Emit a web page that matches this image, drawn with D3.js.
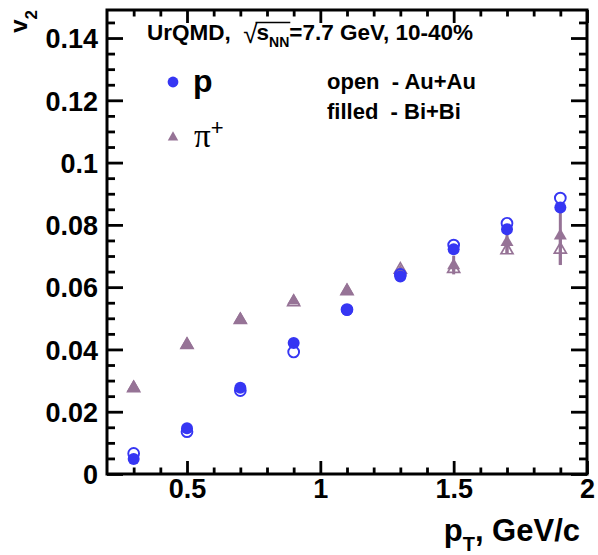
<!DOCTYPE html>
<html>
<head>
<meta charset="utf-8">
<script src="https://cdn.jsdelivr.net/npm/d3@7"></script>
<style>
  html, body { margin: 0; padding: 0; background: #fff; }
  svg { display: block; }
</style>
</head>
<body>
<script>
// Elliptic flow v2 vs transverse momentum, UrQMD, sqrt(sNN)=7.7 GeV, 10-40%
const pT = [0.3, 0.5, 0.7, 0.9, 1.1, 1.3, 1.5, 1.7, 1.9];
const protonAuAu = [0.0066, 0.0136, 0.0268, 0.0392, 0.0528, 0.0641, 0.0735, 0.0805, 0.0886];
const protonBiBi = [0.0048, 0.0147, 0.0277, 0.0421, 0.0527, 0.0634, 0.0722, 0.0786, 0.0856];
const pionAuAu   = [0.0277, 0.0416, 0.0496, 0.0553, 0.0589, 0.0658, 0.0660, 0.0720, 0.0722];
const pionBiBi   = [0.0280, 0.0418, 0.0499, 0.0558, 0.0591, 0.0651, 0.0671, 0.0746, 0.0767];
const pionAuAuErr = [0, 0, 0, 0, 0, 0, 0.0008, 0.0012, 0.0050];
const pionBiBiErr = [0, 0, 0, 0, 0, 0, 0.0030, 0.0037, 0.0096];

const xTickValues = [0.5, 1, 1.5, 2];
const xTickLabels = ["0.5", "1", "1.5", "2"];
const yTickValues = [0, 0.02, 0.04, 0.06, 0.08, 0.1, 0.12, 0.14];
const yTickLabels = ["0", "0.02", "0.04", "0.06", "0.08", "0.1", "0.12", "0.14"];

const W = 598, H = 555;
const frameL = 107, frameR = 587, frameT = 10, frameB = 474;
const BLUE = "#3636f3", MAUVE = "#967396";
const SANS = "'Liberation Sans', Arial, Helvetica, sans-serif";

const svg = d3.select("body").append("svg").attr("width", W).attr("height", H);

const x = d3.scaleLinear().domain([0.2, 2]).range([frameL, frameR]);
const y = d3.scaleLinear().domain([0, 0.149]).range([frameB, frameT]);

const xMinor = d3.range(0.3, 2.0001, 0.1).map(v => +v.toFixed(2)).filter(v => !xTickValues.includes(v));
const yMinor = d3.range(0.005, 0.149, 0.005).map(v => +v.toFixed(3)).filter(v => !yTickValues.includes(v));

function styleAxis(g) {
  g.select(".domain").remove();
  g.selectAll(".tick line").attr("stroke", "#000").attr("stroke-width", 2.8);
}

// bottom axis: major ticks with labels, minor ticks
svg.append("g").attr("transform", `translate(0,${frameB})`)
  .call(d3.axisBottom(x).tickValues(xTickValues).tickSize(-13).tickPadding(24)
    .tickFormat((d, i) => xTickLabels[i]))
  .call(styleAxis)
  .call(g => g.selectAll("text").attr("font-family", SANS).attr("font-weight", "bold")
    .attr("font-size", 27).attr("fill", "#000").attr("dy", "0"));
svg.append("g").attr("transform", `translate(0,${frameB})`)
  .call(d3.axisBottom(x).tickValues(xMinor).tickSize(-6.5).tickFormat(""))
  .call(styleAxis);
// top axis
svg.append("g").attr("transform", `translate(0,${frameT})`)
  .call(d3.axisTop(x).tickValues(xTickValues).tickSize(-13).tickFormat(""))
  .call(styleAxis);
svg.append("g").attr("transform", `translate(0,${frameT})`)
  .call(d3.axisTop(x).tickValues(xMinor).tickSize(-6.5).tickFormat(""))
  .call(styleAxis);

// left axis
svg.append("g").attr("transform", `translate(${frameL},0)`)
  .call(d3.axisLeft(y).tickValues(yTickValues).tickSize(-16)
    .tickFormat((d, i) => yTickLabels[i]))
  .call(styleAxis)
  .call(g => g.selectAll("text").attr("font-family", SANS).attr("font-weight", "bold")
    .attr("font-size", 27).attr("fill", "#000").attr("dy", "0.36em").attr("x", -9));
svg.append("g").attr("transform", `translate(${frameL},0)`)
  .call(d3.axisLeft(y).tickValues(yMinor).tickSize(-8).tickFormat(""))
  .call(styleAxis);
// right axis
svg.append("g").attr("transform", `translate(${frameR},0)`)
  .call(d3.axisRight(y).tickValues(yTickValues).tickSize(-16).tickFormat(""))
  .call(styleAxis);
svg.append("g").attr("transform", `translate(${frameR},0)`)
  .call(d3.axisRight(y).tickValues(yMinor).tickSize(-8).tickFormat(""))
  .call(styleAxis);

// frame
svg.append("rect").attr("x", frameL).attr("y", frameT)
  .attr("width", frameR - frameL).attr("height", frameB - frameT)
  .attr("fill", "none").attr("stroke", "#000").attr("stroke-width", 3);

// axis titles
const xt = svg.append("text").attr("x", 580).attr("y", 541).attr("text-anchor", "end")
  .attr("font-family", SANS).attr("font-weight", "bold").attr("font-size", 31).attr("fill", "#000");
xt.append("tspan").text("p");
xt.append("tspan").attr("font-size", 20).attr("dy", 10).text("T");
xt.append("tspan").attr("dy", -10).text(", GeV/c");

const yt = svg.append("text").attr("transform", `translate(27,10) rotate(-90)`)
  .attr("text-anchor", "end").attr("font-family", SANS).attr("font-weight", "bold")
  .attr("font-size", 24).attr("fill", "#000");
yt.append("tspan").text("v");
yt.append("tspan").attr("font-size", 17).attr("dy", 10).text("2");

// header: UrQMD, sqrt(sNN)=7.7 GeV, 10-40%
const head = svg.append("g").attr("font-family", SANS).attr("font-weight", "bold").attr("fill", "#000");
let cx = 147;
function piece(str, size, dy) {
  const t = head.append("text").attr("x", cx).attr("y", 40 + (dy || 0))
    .attr("font-size", size).attr("xml:space", "preserve").text(str);
  const w = t.node().getComputedTextLength();
  const x0 = cx;
  cx += w;
  return [x0, cx];
}
piece("UrQMD,  ", 22.5);
const sq = head.append("text").attr("x", cx).attr("y", 43).attr("font-size", 26)
  .attr("font-weight", "normal").text("\u221A");
cx += sq.node().getComputedTextLength() - 1;
const sStart = cx;
piece("s", 22.5);
piece("NN", 14, 7);
const sEnd = cx + 1;
head.append("line").attr("x1", sStart - 1).attr("x2", sEnd).attr("y1", 22.5).attr("y2", 22.5)
  .attr("stroke", "#000").attr("stroke-width", 1.3);
piece("=7.7 GeV, 10-40%", 22.5);

// system labels
svg.append("text").attr("x", 327).attr("y", 89).attr("font-family", SANS).attr("font-weight", "bold")
  .attr("font-size", 22).attr("fill", "#000").attr("xml:space", "preserve").text("open  - Au+Au");
svg.append("text").attr("x", 327).attr("y", 119).attr("font-family", SANS).attr("font-weight", "bold")
  .attr("font-size", 22).attr("fill", "#000").attr("xml:space", "preserve").text("filled  - Bi+Bi");

// marker shapes
const triPath = (s) => {
  const h = s * 0.866;
  return `M0,${-h * 0.62}L${s / 2},${h * 0.38}L${-s / 2},${h * 0.38}Z`;
};

// legend
svg.append("circle").attr("cx", 173).attr("cy", 82).attr("r", 5.4).attr("fill", BLUE);
svg.append("text").attr("x", 193).attr("y", 92).attr("font-family", SANS).attr("font-weight", "bold")
  .attr("font-size", 32).attr("fill", "#000").text("p");
svg.append("path").attr("transform", "translate(173,137)").attr("d", triPath(10.5)).attr("fill", MAUVE);
const pl = svg.append("text").attr("x", 194).attr("y", 147).attr("font-family", "'Liberation Serif', 'Times New Roman', serif")
  .attr("font-size", 33).attr("fill", "#000");
pl.append("tspan").text("\u03C0");
pl.append("tspan").attr("font-size", 22).attr("dy", -12).attr("font-family", SANS).text("+");

// data layers
const plot = svg.append("g");

function errBars(vals, errs, color) {
  plot.append("g").selectAll("line")
    .data(pT.map((p, i) => ({ p, v: vals[i], e: errs[i] })).filter(d => d.e > 0))
    .join("line")
    .attr("x1", d => x(d.p)).attr("x2", d => x(d.p))
    .attr("y1", d => y(d.v - d.e)).attr("y2", d => y(d.v + d.e))
    .attr("stroke", color).attr("stroke-width", 3);
}
function circles(vals, filled) {
  plot.append("g").selectAll("circle")
    .data(pT.map((p, i) => ({ p, v: vals[i] })))
    .join("circle")
    .attr("cx", d => x(d.p)).attr("cy", d => y(d.v))
    .attr("r", filled ? 6 : 5.4)
    .attr("fill", filled ? BLUE : "none")
    .attr("stroke", filled ? "none" : BLUE).attr("stroke-width", 1.9);
}
function triangles(vals, filled) {
  plot.append("g").selectAll("path")
    .data(pT.map((p, i) => ({ p, v: vals[i] })))
    .join("path")
    .attr("transform", d => `translate(${x(d.p)},${y(d.v)})`)
    .attr("d", triPath(filled ? 13 : 12))
    .attr("fill", filled ? MAUVE : "none")
    .attr("stroke", filled ? "none" : MAUVE).attr("stroke-width", 1.7)
    .attr("stroke-linejoin", "miter");
}

errBars(pionAuAu, pionAuAuErr, MAUVE);
errBars(pionBiBi, pionBiBiErr, MAUVE);
triangles(pionAuAu, false);
triangles(pionBiBi, true);
circles(protonBiBi, true);
circles(protonAuAu, false);
</script>
</body>
</html>
